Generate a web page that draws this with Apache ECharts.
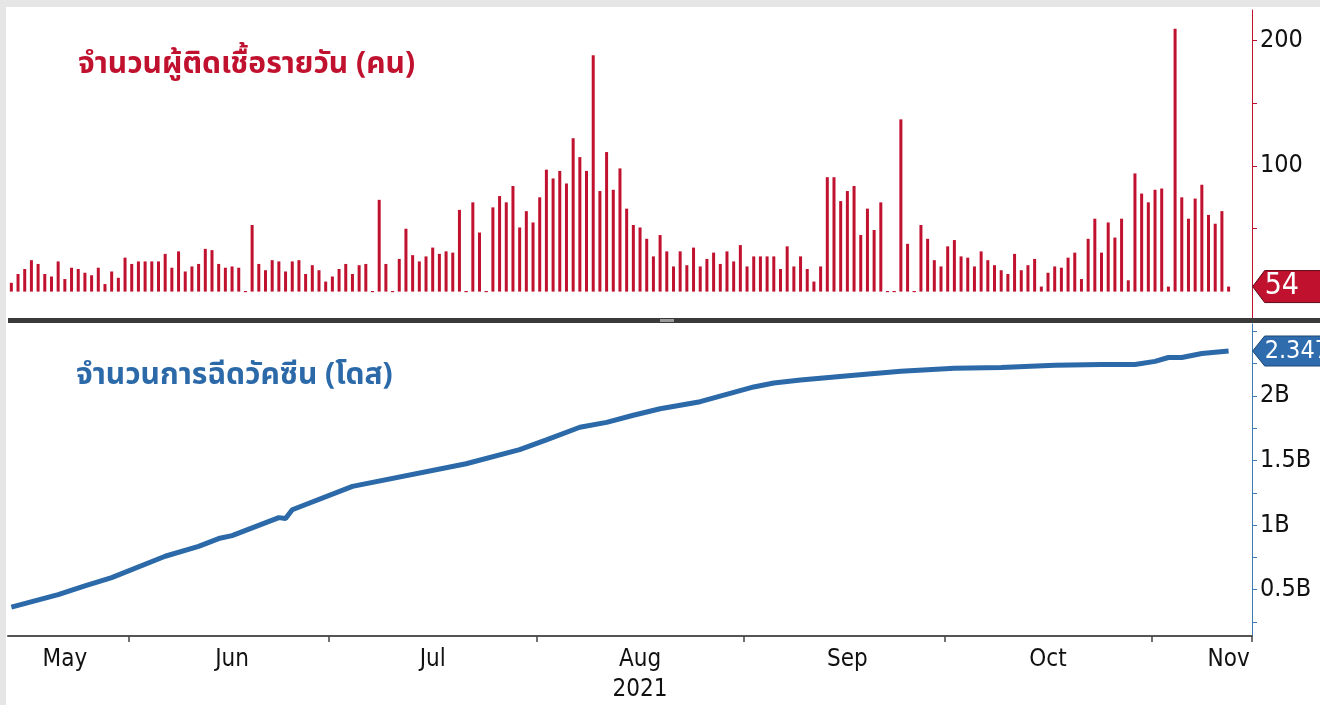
<!DOCTYPE html>
<html>
<head>
<meta charset="utf-8">
<script src="https://cdn.jsdelivr.net/npm/echarts@6/dist/echarts.min.js"></script>
<style>
  html, body { margin: 0; padding: 0; overflow: hidden; background: #fff; }
  #main { width: 1320px; height: 705px; }
</style>
</head>
<body>
<div id="main"></div>
<script>
// days on the axis: 14 May .. 15 Nov 2021
const dates = [];
for (let d = new Date(Date.UTC(2021, 4, 14)); d <= new Date(Date.UTC(2021, 10, 15)); d.setUTCDate(d.getUTCDate() + 1)) {
  dates.push(d.toISOString().slice(0, 10));
}

// daily new cases (people), from 14 May
const cases = [
  7, 14, 18, 25, 22, 14, 12, 24, 10, 19, 18, 15, 13, 19, 6, 16, 11, 27,
  22, 24, 24, 24, 24, 30, 19, 32, 16, 20, 22, 34, 33, 22, 19, 20, 19, 0, 53, 22, 17, 25, 24, 16, 24, 25, 14, 21, 17, 8,
  12, 18, 22, 14, 21, 22, 0, 73, 22, 0, 26, 50, 29, 24, 28, 35, 30, 32, 31, 65, 0, 71, 47, 0, 67, 76, 71, 84, 51, 64, 55,
  75, 97, 90, 96, 86, 122, 107, 96, 188, 80, 111, 81, 98, 66, 53, 51, 42, 28, 45, 32, 20, 32, 21, 35, 20, 26, 31, 22, 32, 24, 37,
  20, 28, 28, 28, 28, 18, 36, 20, 28, 18, 8, 20, 91, 91, 72, 80, 84, 45, 66, 49, 71, 0, 0, 137, 38, 0, 53, 42, 25, 20,
  36, 41, 28, 27, 20, 32, 25, 21, 17, 14, 30, 17, 21, 26, 4, 15, 20, 19, 27, 31, 10, 42, 58, 31, 55, 43, 58, 9, 94, 78, 71,
  81, 82, 4, 209, 75, 58, 74, 85, 61, 54, 64, 4
];
const casesTag = '54';

// cumulative vaccine doses (billion)
const doseDates = [
  '2021-05-14', '2021-05-21', '2021-05-25', '2021-05-29', '2021-06-06', '2021-06-11', '2021-06-14',
  '2021-06-16', '2021-06-23', '2021-06-24', '2021-06-25', '2021-07-04', '2021-07-21', '2021-07-29',
  '2021-08-02', '2021-08-07', '2021-08-11', '2021-08-15', '2021-08-19', '2021-08-25', '2021-09-02',
  '2021-09-05', '2021-09-09', '2021-09-17', '2021-09-24', '2021-10-02', '2021-10-09', '2021-10-17',
  '2021-10-24', '2021-10-29', '2021-11-01', '2021-11-03', '2021-11-05', '2021-11-08', '2021-11-12'
];
const doses = [
  0.365, 0.462, 0.530, 0.594, 0.759, 0.835, 0.896,
  0.919, 1.058, 1.051, 1.119, 1.300, 1.475, 1.584,
  1.660, 1.757, 1.795, 1.850, 1.900, 1.955, 2.069,
  2.100, 2.122, 2.160, 2.190, 2.214, 2.220, 2.236,
  2.243, 2.243, 2.267, 2.297, 2.297, 2.328, 2.347
];
const dosesTag = '2.347B';

// axis labels
const monthLabels = ['May', 'Jun', 'Jul', 'Aug', 'Sep', 'Oct', 'Nov'];
const monthLabelDates = ['2021-05-22', '2021-06-16', '2021-07-16', '2021-08-16', '2021-09-16', '2021-10-16', '2021-11-12'];
const monthTickDates = ['2021-06-01', '2021-07-01', '2021-08-01', '2021-09-01', '2021-10-01', '2021-11-01'];
const yearLabel = '2021';
const caseTicks = [50, 100, 150, 200];
const caseLabels = [100, 200];
const doseTicks = [0.25, 0.5, 0.75, 1, 1.25, 1.5, 1.75, 2, 2.25, 2.5];
const doseLabels = [0.5, 1, 1.5, 2];

const RED = '#c0112f';
const BLUE = '#2b69a8';
const axisFont = '"Liberation Sans Narrow", "DejaVu Sans Condensed", sans-serif';
const thaiFont = '"Noto Sans Thai", "Noto Sans", sans-serif';

let tickIdx = monthTickDates.map(function (d) { return dates.indexOf(d); });

let chart = echarts.init(document.getElementById('main'));

chart.setOption({
  backgroundColor: '#fff',
  animation: false,
  title: [
    { text: 'จำนวนผู้ติดเชื้อรายวัน (คน)', left: 73, top: 47,
      textStyle: { color: RED, fontSize: 30, fontWeight: 'bold', fontFamily: thaiFont } },
    { text: 'จำนวนการฉีดวัคซีน (โดส)', left: 71, top: 358,
      textStyle: { color: BLUE, fontSize: 30, fontWeight: 'bold', fontFamily: thaiFont } }
  ],
  grid: [
    { left: 8, right: 68, top: 10, height: 308 },
    { left: 8, right: 68, top: 324, height: 317 }
  ],
  xAxis: [
    { type: 'category', gridIndex: 0, data: dates, show: false },
    { type: 'category', gridIndex: 1, data: dates,
      axisLine: { lineStyle: { color: '#555', width: 2 } },
      axisTick: { show: true, alignWithLabel: false, length: 6, lineStyle: { color: '#444', width: 1.5 },
        interval: function (idx) { return tickIdx.indexOf(idx) >= 0; } },
      axisLabel: {
        color: '#111', fontSize: 24, fontFamily: axisFont, margin: 9, lineHeight: 30,
        interval: function (idx, val) { return monthLabelDates.indexOf(val) >= 0; },
        formatter: function (val) {
          let k = monthLabelDates.indexOf(val);
          return monthLabels[k] + (monthLabels[k] === 'Aug' ? '\n' + yearLabel : '');
        }
      }
    }
  ],
  yAxis: [
    { type: 'value', gridIndex: 0, position: 'right', min: -21, max: 224,
      splitLine: { show: false },
      axisLine: { show: true, lineStyle: { color: RED } },
      axisTick: { show: true, length: 5, lineStyle: { color: RED }, customValues: caseTicks },
      axisLabel: { color: '#111', fontSize: 25, fontFamily: axisFont, margin: 8, customValues: caseLabels }
    },
    { type: 'value', gridIndex: 1, position: 'right', min: 0.142, max: 2.556,
      splitLine: { show: false },
      axisLine: { show: true, lineStyle: { color: '#3d7ab8' } },
      axisTick: { show: true, length: 5, lineStyle: { color: '#3d7ab8' }, customValues: doseTicks },
      axisLabel: { color: '#111', fontSize: 25, fontFamily: axisFont, margin: 8, customValues: doseLabels,
        formatter: function (v) { return v + 'B'; } }
    }
  ],
  series: [
    { type: 'bar', xAxisIndex: 0, yAxisIndex: 0, barWidth: 3,
      itemStyle: { color: RED },
      data: cases.map(function (v) {
        return v === 0 ? { value: v, itemStyle: { borderColor: RED, borderWidth: 1 } } : v;
      })
    },
    { type: 'line', xAxisIndex: 1, yAxisIndex: 1, showSymbol: false,
      lineStyle: { color: BLUE, width: 5 },
      data: doseDates.map(function (d, i) { return [d, doses[i]]; })
    }
  ]
});

// frame, panel separator and last-value tags
let lastIdx = cases.length - 1;
let caseY = chart.convertToPixel({ yAxisIndex: 0 }, cases[lastIdx]);
let doseY = chart.convertToPixel({ yAxisIndex: 1 }, doses[doses.length - 1]);
let axisX = chart.convertToPixel({ xAxisIndex: 1 }, dates[dates.length - 1]) + 4;

function tag(x, y, h, fill, stroke, text, size) {
  return [
    { type: 'polygon', z: 100,
      shape: { points: [[x, y], [x + 12, y - h / 2], [x + 90, y - h / 2], [x + 90, y + h / 2], [x + 12, y + h / 2]] },
      style: { fill: fill, stroke: stroke, lineWidth: 1 } },
    { type: 'text', z: 101, x: x + 12, y: y,
      style: { text: text, fill: '#fff', font: size + 'px ' + axisFont, verticalAlign: 'middle' } }
  ];
}

chart.setOption({
  graphic: [
    { type: 'rect', shape: { x: 0, y: 0, width: 1320, height: 7 }, style: { fill: '#e6e6e6' } },
    { type: 'rect', shape: { x: 0, y: 0, width: 6, height: 705 }, style: { fill: '#e6e6e6' } },
    { type: 'rect', z: 50, shape: { x: 8, y: 318, width: 1312, height: 5 }, style: { fill: '#3a3a3a' } },
    { type: 'rect', z: 51, shape: { x: 660, y: 319, width: 14, height: 3 }, style: { fill: '#9a9a9a' } }
  ].concat(
    tag(axisX, caseY, 32, RED, '#5a0a16', casesTag, 30),
    tag(axisX, doseY, 30, '#2f6cae', '#1c4677', dosesTag, 25)
  )
});
</script>
</body>
</html>
